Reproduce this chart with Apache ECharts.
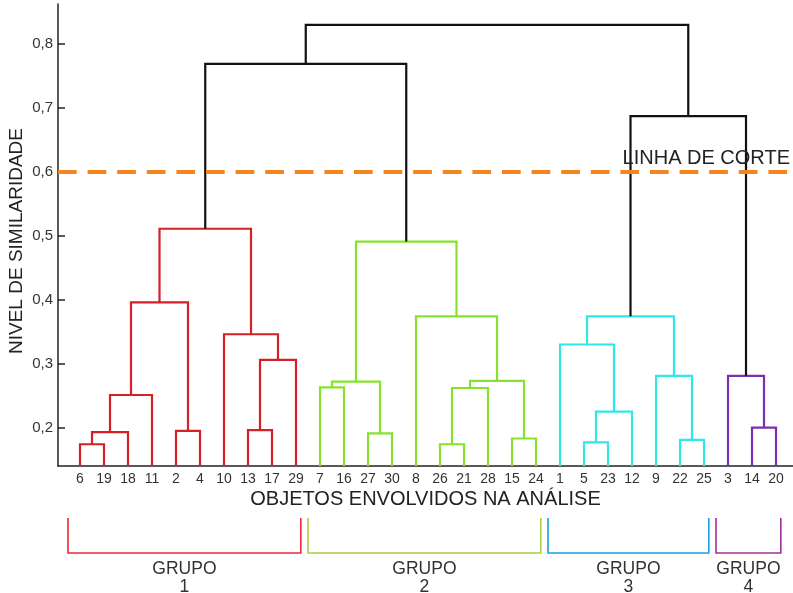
<!DOCTYPE html>
<html>
<head>
<meta charset="utf-8">
<script src="https://cdn.jsdelivr.net/npm/echarts@6/dist/echarts.min.js"></script>
<style>
  html, body { margin: 0; padding: 0; background: #fff; }
  #chart { width: 793px; height: 593px; }
</style>
</head>
<body>
<div id="chart"></div>
<script>
// Leaf order along the horizontal axis
const leafLabels = ['6', '19', '18', '11', '2', '4', '10', '13', '17', '29',
                    '7', '16', '27', '30', '8', '26', '21', '28', '15', '24',
                    '1', '5', '23', '12', '9', '22', '25', '3', '14', '20'];

// Agglomeration steps: [left, right, similarity level].
// Plain strings are leaves; '#k' points to the cluster formed at step k.
const merges = [
  ['6', '19', 0.174],    // #0
  ['#0', '18', 0.193],   // #1
  ['#1', '11', 0.251],   // #2
  ['2', '4', 0.195],     // #3
  ['#2', '#3', 0.396],   // #4
  ['13', '17', 0.196],   // #5
  ['#5', '29', 0.306],   // #6
  ['10', '#6', 0.346],   // #7
  ['#4', '#7', 0.511],   // #8
  ['7', '16', 0.263],    // #9
  ['27', '30', 0.191],   // #10
  ['#9', '#10', 0.272],  // #11
  ['26', '21', 0.174],   // #12
  ['#12', '28', 0.262],  // #13
  ['15', '24', 0.183],   // #14
  ['#13', '#14', 0.273], // #15
  ['8', '#15', 0.374],   // #16
  ['#11', '#16', 0.491], // #17
  ['5', '23', 0.177],    // #18
  ['#18', '12', 0.225],  // #19
  ['1', '#19', 0.330],   // #20
  ['22', '25', 0.181],   // #21
  ['9', '#21', 0.281],   // #22
  ['#20', '#22', 0.374], // #23
  ['14', '20', 0.200],   // #24
  ['3', '#24', 0.281],   // #25
  ['#23', '#25', 0.687], // #26
  ['#8', '#17', 0.769],  // #27
  ['#27', '#26', 0.830]  // #28
];

const cutLevel = 0.6;
const yTicks = [0.2, 0.3, 0.4, 0.5, 0.6, 0.7, 0.8];

// Groups formed by the cut (positions in leafLabels)
const groupNames = ['GRUPO\n1', 'GRUPO\n2', 'GRUPO\n3', 'GRUPO\n4'];
const groupFirst = [0, 10, 20, 27];
const groupLast = [9, 19, 26, 29];

const clusterColors = ['#D42027', '#86E22A', '#2EE8E8', '#7B2FB0'];
const bracketColors = ['#EE2A35', '#A9CF45', '#1BA1E2', '#A2309B'];
const linkAboveCut = '#111111';

const Y_MIN = 0.14, Y_MAX = 0.8625;
const X_MIN = -0.9167, X_MAX = 29.708;
const FONT = '"Liberation Sans", Arial, sans-serif';

// Lay out the tree: each cluster sits midway between its two children
const nodes = {};
leafLabels.forEach((lab, i) => { nodes[lab] = { x: i, h: Y_MIN, first: i }; });
const groupOf = i => groupFirst.findIndex((f, g) => i >= f && i <= groupLast[g]);
const links = merges.map(([a, b, h], k) => {
  const A = nodes[a], B = nodes[b];
  nodes['#' + k] = { x: (A.x + B.x) / 2, h: h, first: Math.min(A.first, B.first) };
  const color = h < cutLevel ? clusterColors[groupOf(Math.min(A.first, B.first))] : linkAboveCut;
  return { value: [A.x, A.h, B.x, B.h, h], itemStyle: { color: color } };
});

const chart = echarts.init(document.getElementById('chart'), null, { renderer: 'canvas' });

chart.setOption({
  backgroundColor: '#fff',
  animation: false,
  textStyle: { fontFamily: FONT },
  grid: [
    { left: 58, right: 0, top: 4, height: 462, containLabel: false, outerBoundsMode: 'none' },
    { left: 58, right: 0, top: 505, height: 88, containLabel: false, outerBoundsMode: 'none' }
  ],
  xAxis: [
    {
      type: 'value', gridIndex: 0, min: X_MIN, max: X_MAX,
      axisLine: { show: true, onZero: false, lineStyle: { color: '#222', width: 1.5 } },
      axisTick: { show: false },
      axisLabel: { show: false },
      splitLine: { show: false },
      name: 'OBJETOS ENVOLVIDOS NA ANÁLISE',
      nameLocation: 'middle',
      nameGap: 23,
      nameMoveOverlap: false,
      nameTextStyle: { fontSize: 20, color: '#222', fontFamily: FONT }
    },
    { type: 'value', gridIndex: 1, min: X_MIN, max: X_MAX, show: false }
  ],
  yAxis: [
    {
      type: 'value', gridIndex: 0, min: Y_MIN, max: Y_MAX,
      axisLine: { show: true, onZero: false, lineStyle: { color: '#222', width: 1.5 } },
      axisTick: { show: true, inside: true, length: 7, customValues: yTicks,
                  lineStyle: { color: '#222', width: 1.5 } },
      axisLabel: { customValues: yTicks, margin: 5, color: '#333', fontSize: 15,
                   formatter: v => v.toFixed(1).replace('.', ',') },
      splitLine: { show: false },
      name: 'NIVEL DE SIMILARIDADE',
      nameLocation: 'middle',
      nameRotate: 90,
      nameGap: 32,
      nameMoveOverlap: false,
      nameTextStyle: { fontSize: 19, color: '#222', fontFamily: FONT, padding: [0, 12, 0, 0] }
    },
    { type: 'value', gridIndex: 1, min: 0, max: 1, show: false }
  ],
  series: [
    {
      // cut line
      type: 'line', xAxisIndex: 0, yAxisIndex: 0, data: [], z: 1,
      markLine: {
        silent: true, symbol: 'none', animation: false,
        data: [{ yAxis: cutLevel }],
        lineStyle: { color: '#F5841F', width: 4, type: [18.7, 10.9] },
        label: { show: true, position: 'insideEndTop', formatter: 'LINHA DE CORTE',
                 color: '#222', fontSize: 20, fontFamily: FONT, distance: 3 }
      }
    },
    {
      // dendrogram links
      type: 'custom', xAxisIndex: 0, yAxisIndex: 0, z: 3,
      encode: { x: [0, 2], y: [1, 3, 4] },
      data: links,
      renderItem: (params, api) => {
        const xl = api.value(0), hl = api.value(1), xr = api.value(2), hr = api.value(3), h = api.value(4);
        return {
          type: 'polyline',
          shape: { points: [api.coord([xl, hl]), api.coord([xl, h]), api.coord([xr, h]), api.coord([xr, hr])] },
          style: { stroke: api.visual('color'), lineWidth: 2.2, fill: null }
        };
      }
    },
    {
      // leaf labels under the axis
      type: 'custom', xAxisIndex: 0, yAxisIndex: 0, z: 3,
      data: leafLabels.map((lab, i) => [i, Y_MIN]),
      renderItem: (params, api) => {
        const p = api.coord([api.value(0), api.value(1)]);
        return {
          type: 'text', x: p[0], y: p[1] + 6,
          style: { text: leafLabels[params.dataIndex], fill: '#333', fontSize: 14,
                   fontFamily: FONT, align: 'center', verticalAlign: 'top' }
        };
      }
    },
    {
      // group brackets
      type: 'custom', xAxisIndex: 1, yAxisIndex: 1, z: 3,
      data: groupFirst.map((f, g) => [f - 0.5, groupLast[g] + 0.2, g]),
      renderItem: (params, api) => {
        const cs = params.coordSys;
        const g = api.value(2);
        const xl = api.coord([api.value(0), 0])[0];
        const xr = api.coord([api.value(1), 0])[0];
        const top = cs.y + 13, bottom = cs.y + 48;
        return {
          type: 'group',
          children: [
            { type: 'polyline',
              shape: { points: [[xl, top], [xl, bottom], [xr, bottom], [xr, top]] },
              style: { stroke: bracketColors[g], lineWidth: 1.6, fill: null } },
            { type: 'text', x: (xl + xr) / 2, y: cs.y + 73,
              style: { text: groupNames[g], fill: '#333', fontSize: 17.5, fontFamily: FONT,
                       lineHeight: 18, align: 'center', verticalAlign: 'middle' } }
          ]
        };
      }
    }
  ]
});
</script>
</body>
</html>
